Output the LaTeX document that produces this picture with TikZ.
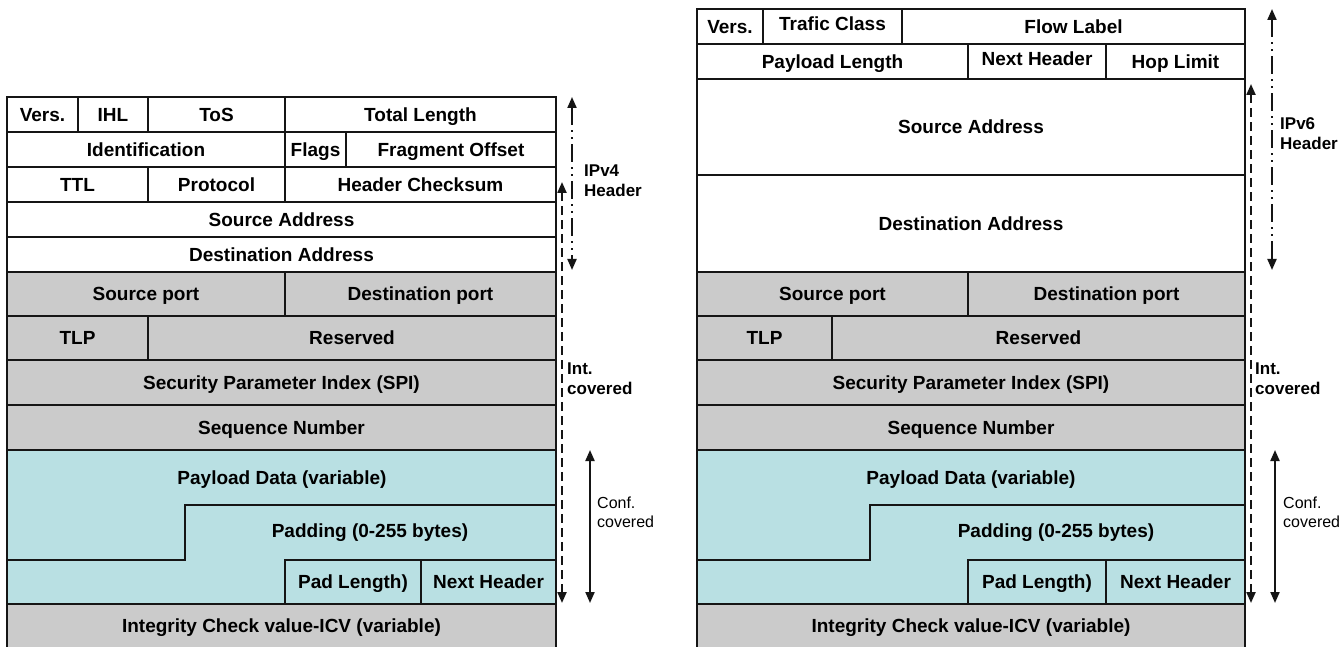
\documentclass[tikz,border=0pt]{standalone}
\usepackage{fontspec}
\setmainfont{Liberation Sans}
\usetikzlibrary{arrows.meta}

\definecolor{linec}{HTML}{151515}
\definecolor{espgray}{HTML}{CBCBCB}
\definecolor{espteal}{HTML}{B9E0E3}

% one packet field: style, name, x1, y1, x2, y2, text
\newcommand\pktfield[7]{%
  \node[#1, minimum width={(#5-#3)*1pt}, minimum height={(#6-#4)*1pt}] (#2) at (#3,#4) {#7};}

\begin{document}
\begin{tikzpicture}[
  x=1pt, y=-1pt,
  cell/.style={draw=linec, line width=2.2pt, inner sep=0pt, outer sep=0pt,
               anchor=north west, text height=13.7pt, text depth=0pt,
               font=\fontsize{19}{22}\selectfont\bfseries},
  hdr/.style={cell, fill=white},
  hdrup/.style={hdr, text depth=6pt},
  esp/.style={cell, fill=espgray},
  trl/.style={cell, fill=espteal},
  txt/.style={inner sep=0pt, text height=13.7pt, text depth=0pt,
              font=\fontsize{19}{22}\selectfont\bfseries},
  seam/.style={draw=linec, line width=2.2pt},
  lbl/.style={inner sep=0pt, anchor=north west, align=left,
              font=\fontsize{17}{20}\selectfont\bfseries},
  lblthin/.style={lbl, font=\fontsize{16}{19}\selectfont},
  hdrspan/.style={draw=linec, line width=2pt, {Triangle[length=11pt,width=9pt]}-{Triangle[length=11pt,width=9pt]},
                  dash pattern=on 18pt off 5pt on 2pt off 5pt on 2pt off 5pt},
  intspan/.style={draw=linec, line width=2.2pt, {Triangle[length=11pt,width=9pt]}-{Triangle[length=11pt,width=9pt]},
                  dash pattern=on 9pt off 5pt},
  confspan/.style={draw=linec, line width=2pt, {Triangle[length=11pt,width=9pt]}-{Triangle[length=11pt,width=9pt]}}
]
\useasboundingbox (0,0) rectangle (1342,647);
\fill[white] (0,0) rectangle (1342,647);

% ---------------- ESP in IPv4 ----------------
\pktfield{hdr}{a-vers}{7}{97}{78}{132}{Vers.}
\pktfield{hdr}{a-ihl}{78}{97}{148}{132}{IHL}
\pktfield{hdr}{a-tos}{148}{97}{285}{132}{ToS}
\pktfield{hdr}{a-len}{285}{97}{556}{132}{Total Length}
\pktfield{hdr}{a-id}{7}{132}{285}{167}{Identification}
\pktfield{hdr}{a-flags}{285}{132}{346}{167}{Flags}
\pktfield{hdr}{a-frag}{346}{132}{556}{167}{Fragment Offset}
\pktfield{hdr}{a-ttl}{7}{167}{148}{202}{TTL}
\pktfield{hdr}{a-proto}{148}{167}{285}{202}{Protocol}
\pktfield{hdr}{a-csum}{285}{167}{556}{202}{Header Checksum}
\pktfield{hdr}{a-src}{7}{202}{556}{237}{Source Address}
\pktfield{hdr}{a-dst}{7}{237}{556}{272}{Destination Address}

\pktfield{esp}{a-sport}{7}{272}{285}{316}{Source port}
\pktfield{esp}{a-dport}{285}{272}{556}{316}{Destination port}
\pktfield{esp}{a-tlp}{7}{316}{148}{360}{TLP}
\pktfield{esp}{a-resv}{148}{316}{556}{360}{Reserved}
\pktfield{esp}{a-spi}{7}{360}{556}{405}{Security Parameter Index (SPI)}
\pktfield{esp}{a-seq}{7}{405}{556}{450}{Sequence Number}

\pktfield{trl}{a-pay}{7}{450}{556}{604}{}
\draw[seam] (7,560) -- (185,560) -- (185,505) -- (556,505);
\node[txt] (a-paytxt) at (282,478) {Payload Data (variable)};
\node[txt] (a-padtxt) at (370,531) {Padding (0-255 bytes)};
\pktfield{trl}{a-padlen}{285}{560}{421}{604}{Pad Length)}
\pktfield{trl}{a-next}{421}{560}{556}{604}{Next Header}
\pktfield{esp}{a-icv}{7}{604}{556}{648}{Integrity Check value-ICV (variable)}

\coordinate (a-v4top) at (572,97);
\coordinate (a-v4bot) at (572,270);
\coordinate (a-inttop) at (562,182);
\coordinate (a-intbot) at (562,603);
\coordinate (a-conftop) at (590,450);
\coordinate (a-confbot) at (590,603);
\draw[hdrspan] (a-v4top) -- (a-v4bot);
\draw[intspan] (a-inttop) -- (a-intbot);
\draw[confspan] (a-conftop) -- (a-confbot);
\node[lbl] (a-v4lbl) at (584,165) {IPv4\\Header};
\node[lbl] (a-intlbl) at (567,363) {Int.\\covered};
\node[lblthin] (a-conflbl) at (597,497) {Conf.\\covered};

% ---------------- ESP in IPv6 ----------------
\pktfield{hdr}{b-vers}{697}{9}{763}{44}{Vers.}
\pktfield{hdrup}{b-class}{763}{9}{902}{44}{Trafic Class}
\pktfield{hdr}{b-flow}{902}{9}{1245}{44}{Flow Label}
\pktfield{hdr}{b-plen}{697}{44}{968}{79}{Payload Length}
\pktfield{hdrup}{b-next6}{968}{44}{1106}{79}{Next Header}
\pktfield{hdr}{b-hop}{1106}{44}{1245}{79}{Hop Limit}
\pktfield{hdr}{b-src}{697}{79}{1245}{175}{Source Address}
\pktfield{hdr}{b-dst}{697}{175}{1245}{272}{Destination Address}

\pktfield{esp}{b-sport}{697}{272}{968}{316}{Source port}
\pktfield{esp}{b-dport}{968}{272}{1245}{316}{Destination port}
\pktfield{esp}{b-tlp}{697}{316}{832}{360}{TLP}
\pktfield{esp}{b-resv}{832}{316}{1245}{360}{Reserved}
\pktfield{esp}{b-spi}{697}{360}{1245}{405}{Security Parameter Index (SPI)}
\pktfield{esp}{b-seq}{697}{405}{1245}{450}{Sequence Number}

\pktfield{trl}{b-pay}{697}{450}{1245}{604}{}
\draw[seam] (697,560) -- (870,560) -- (870,505) -- (1245,505);
\node[txt] (b-paytxt) at (971,478) {Payload Data (variable)};
\node[txt] (b-padtxt) at (1056,531) {Padding (0-255 bytes)};
\pktfield{trl}{b-padlen}{968}{560}{1106}{604}{Pad Length)}
\pktfield{trl}{b-next}{1106}{560}{1245}{604}{Next Header}
\pktfield{esp}{b-icv}{697}{604}{1245}{648}{Integrity Check value-ICV (variable)}

\coordinate (b-v6top) at (1272,9);
\coordinate (b-v6bot) at (1272,270);
\coordinate (b-inttop) at (1251,84);
\coordinate (b-intbot) at (1251,603);
\coordinate (b-conftop) at (1275,450);
\coordinate (b-confbot) at (1275,603);
\draw[hdrspan] (b-v6top) -- (b-v6bot);
\draw[intspan] (b-inttop) -- (b-intbot);
\draw[confspan] (b-conftop) -- (b-confbot);
\node[lbl] (b-v6lbl) at (1280,117) {IPv6\\Header};
\node[lbl] (b-intlbl) at (1255,363) {Int.\\covered};
\node[lblthin] (b-conflbl) at (1283,497) {Conf.\\covered};
\end{tikzpicture}
\end{document}
